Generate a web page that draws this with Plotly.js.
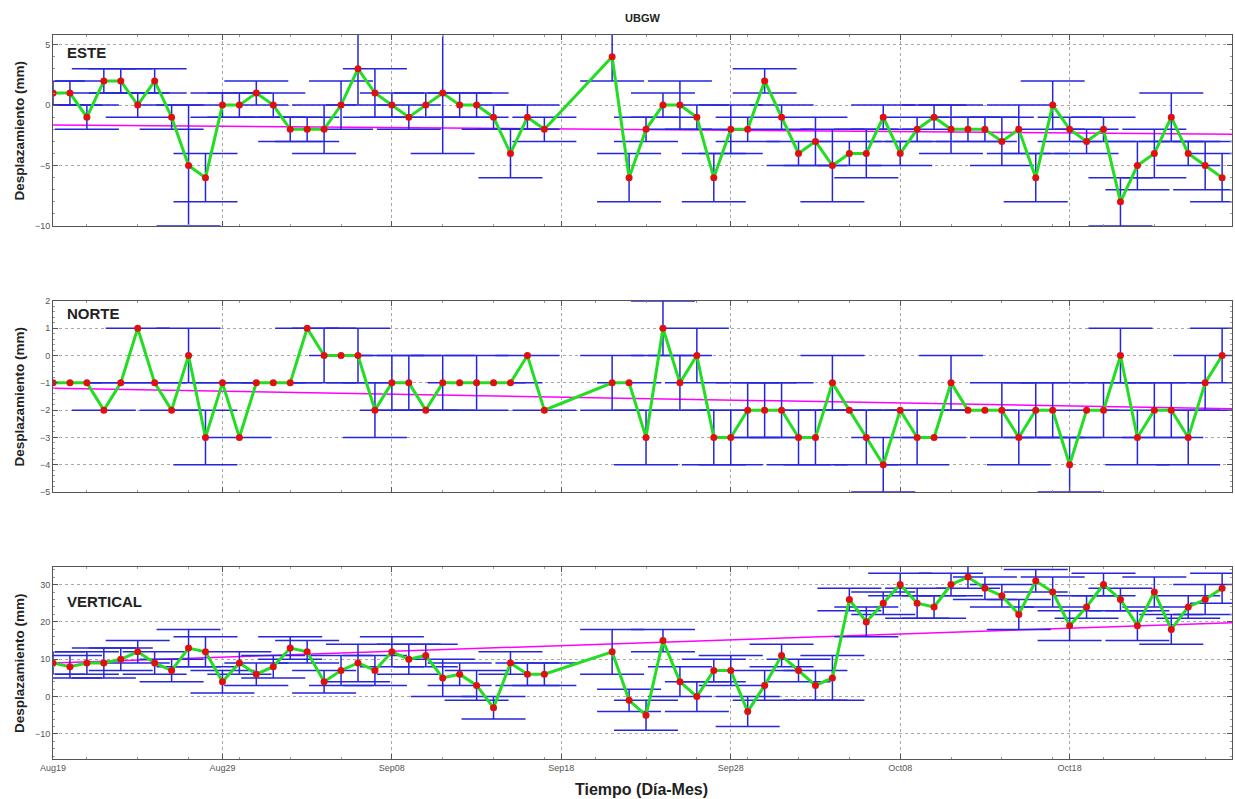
<!DOCTYPE html>
<html>
<head>
<meta charset="utf-8">
<script src="https://cdn.plot.ly/plotly-3.0.1.min.js"></script>
<style>
  html, body { margin: 0; padding: 0; background: #ffffff; }
  #chart { width: 1235px; height: 799px; }
</style>
</head>
<body>
<div id="chart"></div>
<script>
// ---- Data ----
var dates = [
  '2013-08-19','2013-08-20','2013-08-21','2013-08-22','2013-08-23','2013-08-24','2013-08-25','2013-08-26',
  '2013-08-27','2013-08-28','2013-08-29','2013-08-30','2013-08-31','2013-09-01','2013-09-02','2013-09-03',
  '2013-09-04','2013-09-05','2013-09-06','2013-09-07','2013-09-08','2013-09-09','2013-09-10','2013-09-11',
  '2013-09-12','2013-09-13','2013-09-14','2013-09-15','2013-09-16','2013-09-17',
  '2013-09-21','2013-09-22','2013-09-23','2013-09-24','2013-09-25','2013-09-26','2013-09-27','2013-09-28',
  '2013-09-29','2013-09-30','2013-10-01','2013-10-02','2013-10-03','2013-10-04','2013-10-05','2013-10-06',
  '2013-10-07','2013-10-08','2013-10-09','2013-10-10','2013-10-11','2013-10-12','2013-10-13','2013-10-14',
  '2013-10-15','2013-10-16','2013-10-17','2013-10-18','2013-10-19','2013-10-20','2013-10-21','2013-10-22',
  '2013-10-23','2013-10-24','2013-10-25','2013-10-26','2013-10-27'
];

var esteVals = [1, 1,-1, 2, 2, 0, 2,-1,-5,-6, 0, 0, 1, 0,-2,-2,-2, 0, 3, 1, 0,-1, 0, 1, 0, 0,-1,-4,-1,-2,
                4,-6,-2, 0, 0,-1,-6,-2,-2, 2,-1,-4,-3,-5,-4,-4,-1,-4,-2,-1,-2,-2,-2,-3,-2,-6, 0,-2,-3,-2,-8,-5,-4,-1,-4,-5,-6];
var esteErr  = [1, 1, 1, 1, 1, 1, 1, 1, 5, 2, 1, 1, 1, 1, 1, 1, 2, 2, 3, 2, 1, 1, 1, 5, 1, 1, 1, 2, 1, 1,
                2, 2, 1, 1, 2, 1, 2, 2, 1, 1, 1, 1, 2, 3, 1, 2, 1, 1, 1, 1, 2, 1, 1, 2, 2, 2, 2, 1, 1, 1, 2, 2, 2, 2, 1, 2, 2];

var norteVals = [-1,-1,-1,-2,-1, 1,-1,-2, 0,-3,-1,-3,-1,-1,-1, 1, 0, 0, 0,-2,-1,-1,-2,-1,-1,-1,-1,-1, 0,-2,
                 -1,-1,-3, 1,-1, 0,-3,-3,-2,-2,-2,-3,-3,-1,-2,-3,-4,-2,-3,-3,-1,-2,-2,-2,-3,-2,-2,-4,-2,-2, 0,-3,-2,-2,-3,-1, 0];
var norteErr  = [ 0, 0, 0, 0, 0, 0, 0, 0, 1, 1, 0, 0, 0, 0, 0, 0, 1, 0, 1, 1, 1, 1, 0, 1, 0, 1, 0, 0, 0, 0,
                  1, 0, 1, 1, 1, 1, 1, 1, 1, 1, 1, 1, 1, 1, 0, 1, 1, 0, 1, 0, 1, 0, 0, 1, 1, 1, 1, 1, 0, 1, 1, 1, 1, 1, 1, 1, 1];

var vertVals = [9, 8, 9, 9,10,12, 9, 7,13,12, 4, 9, 6, 8,13,12, 4, 7, 9, 7,12,10,11, 5, 6, 3,-3, 9, 6, 6,
                12,-1,-5,15, 4, 0, 7, 7,-4, 3,11, 7, 3, 5,26,20,25,30,25,24,30,32,29,27,22,31,28,19,24,30,26,19,28,18,24,26,29];
var vertErr  = [3, 3, 3, 4, 3, 3, 3, 3, 5, 4, 3, 3, 3, 3, 3, 3, 3, 4, 5, 4, 4, 4, 3, 5, 3, 4, 3, 3, 3, 3,
                6, 3, 4, 3, 4, 4, 3, 4, 4, 4, 3, 3, 4, 6, 3, 4, 3, 3, 4, 3, 3, 3, 3, 3, 4, 3, 4, 4, 3, 3, 3, 4, 4, 4, 3, 4, 4];

// linear trend lines (end values)
var trendDates = ['2013-08-19 00:00', '2013-10-27 14:00'];
var esteTrend  = [-1.65, -2.4];
var norteTrend = [-1.2, -1.95];
var vertTrend  = [9.0, 19.8];

var xTickVals = ['2013-08-19','2013-08-29','2013-09-08','2013-09-18','2013-09-28','2013-10-08','2013-10-18'];
var xTickText = ['Aug19','Aug29','Sep08','Sep18','Sep28','Oct08','Oct18'];

var panelNames = ['ESTE', 'NORTE', 'VERTICAL'];

// ---- Styles ----
var GREEN = '#22dd22', RED = '#e01010', BLUE = '#2626dd', MAGENTA = '#ff00ff';
var FONT = 'Liberation Sans, Arial, sans-serif';

function panelTraces(vals, errs, trend, xa, ya) {
  return [
    { x: trendDates, y: trend, xaxis: xa, yaxis: ya, mode: 'lines',
      line: { color: MAGENTA, width: 1.5 }, hoverinfo: 'skip', showlegend: false },
    { x: dates, y: vals, xaxis: xa, yaxis: ya, mode: 'lines+markers',
      line: { color: GREEN, width: 3 },
      marker: { color: RED, size: 7 },
      error_y: { type: 'data', array: errs, visible: true, color: BLUE, thickness: 1.5, width: 32 },
      showlegend: false }
  ];
}

var data = []
  .concat(panelTraces(esteVals, esteErr, esteTrend, 'x', 'y'))
  .concat(panelTraces(norteVals, norteErr, norteTrend, 'x2', 'y2'))
  .concat(panelTraces(vertVals, vertErr, vertTrend, 'x3', 'y3'));

var H = 724; // plot-area height in px (799 - 35 - 40)
function dom(topPx, botPx) { return [(759 - botPx) / H, (759 - topPx) / H]; }

function xAxis(anchor, showLabels) {
  return {
    type: 'date', range: trendDates, anchor: anchor,
    tickvals: xTickVals, ticktext: xTickText, showticklabels: showLabels,
    ticks: 'inside', ticklen: 5, tickcolor: '#555',
    showline: true, linecolor: '#555', linewidth: 1, mirror: 'allticks',
    showgrid: true, gridcolor: '#a8a8a8', griddash: 'dot', gridwidth: 1,
    zeroline: false,
    minor: { ticks: 'inside', ticklen: 2, tickcolor: '#999', nticks: 5, showgrid: false },
    tickfont: { family: FONT, size: 9, color: '#555' }
  };
}
function yAxis(anchor, domain, range, dtick) {
  return {
    anchor: anchor, domain: domain, range: range, dtick: dtick, tick0: 0,
    ticks: 'inside', ticklen: 5, tickcolor: '#555',
    showline: true, linecolor: '#555', linewidth: 1, mirror: 'allticks',
    showgrid: true, gridcolor: '#a8a8a8', griddash: 'dot', gridwidth: 1,
    zeroline: false,
    minor: { ticks: 'inside', ticklen: 2, tickcolor: '#999', nticks: 5, showgrid: false },
    tickfont: { family: FONT, size: 9, color: '#555' }
  };
}

var annotations = [];
var panelTops = [35, 301, 567];
var panelBots = [226, 492, 759];
var labelY = [52, 313, 601];
for (var i = 0; i < 3; i++) {
  annotations.push({
    text: '<b>' + panelNames[i] + '</b>', xref: 'paper', yref: 'paper',
    x: (65 - 53) / 1179, y: (759 - labelY[i]) / H, xanchor: 'left', yanchor: 'middle',
    showarrow: false, font: { family: FONT, size: 15, color: '#222' }
  });
  annotations.push({
    text: '<b>Desplazamiento (mm)</b>', xref: 'paper', yref: 'paper', textangle: -90,
    x: (19 - 53) / 1179, y: (759 - (panelTops[i] + panelBots[i]) / 2) / H,
    xanchor: 'center', yanchor: 'middle', showarrow: false,
    font: { family: FONT, size: 13.5, color: '#222' }
  });
}
annotations.push({
  text: '<b>Tiempo (Día-Mes)</b>', xref: 'paper', yref: 'paper',
  x: (641 - 53) / 1179, y: -30 / H, xanchor: 'center', yanchor: 'middle',
  showarrow: false, font: { family: FONT, size: 16, color: '#222' }
});

var layout = {
  width: 1235, height: 799,
  margin: { l: 53, r: 3, t: 35, b: 40 },
  paper_bgcolor: '#ffffff', plot_bgcolor: '#ffffff',
  title: { text: '<b>UBGW</b>', x: 0.5, xref: 'paper', y: 1 - 18 / 799, yanchor: 'middle',
           font: { family: FONT, size: 11, color: '#222' } },
  xaxis: xAxis('y', false),
  xaxis2: xAxis('y2', false),
  xaxis3: xAxis('y3', true),
  yaxis: yAxis('x', dom(35, 226), [-10, 5.8], 5),
  yaxis2: yAxis('x2', dom(301, 492), [-5, 2], 1),
  yaxis3: yAxis('x3', dom(567, 759), [-16.7, 34.7], 10),
  annotations: annotations,
  showlegend: false
};

Plotly.newPlot('chart', data, layout, { displayModeBar: false, staticPlot: true });
</script>
</body>
</html>
